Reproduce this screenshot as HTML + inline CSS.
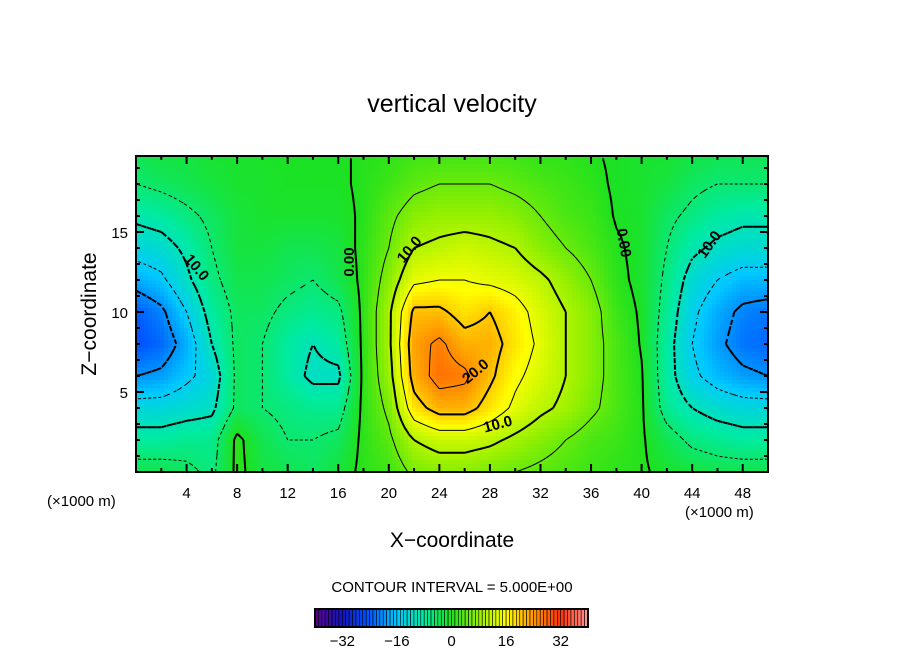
<!DOCTYPE html>
<html><head><meta charset="utf-8"><style>
body{margin:0;background:#fff;}
svg{display:block;font-family:"Liberation Sans",sans-serif;}
</style></head><body>
<svg id="chart" width="904" height="654" viewBox="0 0 904 654" xmlns="http://www.w3.org/2000/svg">
<rect width="904" height="654" fill="#fff"/>
<text x="452" y="112" font-size="25" text-anchor="middle">vertical velocity</text>
<g id="field"></g>
<g id="contours"></g>
<g id="labels" font-size="15" font-weight="bold"></g>
<rect x="136" y="156" width="632" height="316" fill="none" stroke="#000" stroke-width="2"/>
<g id="ticks"></g>
<text transform="translate(96,314) rotate(-90)" font-size="21" text-anchor="middle">Z−coordinate</text>
<text x="452" y="547" font-size="21" text-anchor="middle">X−coordinate</text>
<text x="47" y="506" font-size="15">(×1000 m)</text>
<text x="685" y="517" font-size="15">(×1000 m)</text>
<text x="452" y="592" font-size="15" text-anchor="middle">CONTOUR INTERVAL = 5.000E+00</text>
<g id="cbar"></g>
</svg>
<script>
const xs=[0,2,4,6,8,10,12,14,16,18,20,22,24,26,28,30,32,34,36,38,40,42,44,46,48,50];
const zs=[0,2,4,6,8,10,12,14,16,18,20];
const w0=[-3,-3,-4,-6,1,-2,-3,-4,-2,1,2,6,7,7,6,5,4,3,2,1,0.5,-1,-2,-3,-3,-3];
const w2=[-8,-8,-7,-7,1,-3,-5,-5,-4,1,4,10,12,12,11,9,7,5,3,2,0.5,-3,-6,-7,-8,-8];
const w4=[-13,-13,-12,-11,-4,-5,-6,-7,-7,1,6,18,22,22,18,14,11,9,6,3,0.5,-7,-10,-12,-13,-13];
const w6=[-20,-19,-16,-13,-4,-5,-8,-11,-11,1,8,22,27,26,21,16,13,10,7,3,0.3,-8,-14,-17,-19,-20];
const w8=[-25,-23,-18,-10,-4,-5,-8,-10,-8,1,9,23,26,22,22,18,14,10,7,3,-0.3,-8,-15,-19,-22,-23];
const w10=[-24,-21,-15,-8,-4,-4,-6,-7,-6,1,9,21,21,18,20,17,13,10,7,2,-0.5,-7,-14,-18,-21,-22];
const w12=[-18,-16,-11,-6,-3,-3,-4,-5,-3,1,7,14,15,15,14,13,11,8,5,1,-1,-6,-12,-15,-17,-17];
const w14=[-13,-12,-9,-5,-2,-2,-3,-3,-2,1,5,10,11,12,11,10,7,5,3,0.5,-1,-5,-9,-11,-12,-12];
const w16=[-9,-8,-6,-4,-2,-1,-1,-1,-1,0.5,4,7,8,8,8,7,5,3,2,-0.3,-1,-4,-6,-8,-9,-9];
const w18=[-5,-4,-3,-2,-1,-1,-0.5,-0.5,-0.5,0.5,2,4,5,5,5,4,3,2,1,-0.5,-1,-2,-4,-5,-5,-5];
const w20=[-3,-2,-2,-1,-1,-0.5,-0.5,-0.5,-0.5,0.5,1,2,2,2,2,2,1,1,0.3,-0.5,-1,-1,-2,-3,-3,-3];
const rows=[w0,w2,w4,w6,w8,w10,w12,w14,w16,w18,w20];
const levels=[-20,-15,-10,-5,0,5,10,15,20,25];
const xTicks=[4,8,12,16,20,24,28,32,36,40,44,48];
const zTicks=[5,10,15];
const cbTicks=[-32,-16,0,16,32];

const NS="http://www.w3.org/2000/svg";
const X0=136,X1=768,Y0=472,ZMAX=19.75;
const sx=x=>X0+(x/50)*(X1-X0);
const sz=z=>Y0-z*16;
function val(x,z){
  let i=Math.min(Math.floor(x/2),xs.length-2),j=Math.min(Math.floor(z/2),zs.length-2);
  let fx=(x-xs[i])/2,fz=(z-zs[j])/2;
  const a=rows[j][i],b=rows[j][i+1],c=rows[j+1][i],d=rows[j+1][i+1];
  return (a*(1-fx)+b*fx)*(1-fz)+(c*(1-fx)+d*fx)*fz;
}
const stops=[[-40,[90,0,140]],[-32,[20,20,190]],[-24,[0,90,255]],[-16,[0,200,255]],[-8,[0,235,160]],[0,[30,225,30]],[8,[150,240,0]],[16,[255,255,0]],[24,[255,150,0]],[32,[255,50,10]],[40,[255,150,150]]];
function col(v){
  v=Math.max(-40,Math.min(40,v));
  for(let k=0;k<stops.length-1;k++){
    const [a,ca]=stops[k],[b,cb]=stops[k+1];
    if(v<=b){const t=(v-a)/(b-a);return `rgb(${ca.map((c,i)=>Math.round(c+(cb[i]-c)*t)).join(',')})`;}
  }
  return 'rgb(255,150,150)';
}
function mk(tag,attrs,parent){const e=document.createElementNS(NS,tag);for(const k in attrs)e.setAttribute(k,attrs[k]);parent.appendChild(e);return e;}
const field=document.getElementById('field');
const cs=4;
for(let py=156;py<472;py+=cs){for(let px=136;px<768;px+=cs){
  const x=(px+cs/2-X0)/(X1-X0)*50, z=(Y0-(py+cs/2))/16;
  const r=mk('rect',{x:px,y:py,width:cs+0.5,height:Math.min(cs,472-py)+0.5,fill:col(val(x,Math.min(z,ZMAX)))},field);
  
  
}}
const cg=document.getElementById('contours');
const dx=0.4,dz=0.4,nx=Math.round(50/dx),nz=Math.floor(ZMAX/dz);
const G=[];for(let j=0;j<=nz;j++){G[j]=[];for(let i=0;i<=nx;i++)G[j][i]=val(i*dx,j*dz);}
levels.forEach(L=>{
  let d='';
  for(let j=0;j<nz;j++)for(let i=0;i<nx;i++){
    const p=[[i,j],[i+1,j],[i+1,j+1],[i,j+1]];
    const pts=[];
    for(let e=0;e<4;e++){
      const [a1,b1]=p[e],[a2,b2]=p[(e+1)%4];
      const v1=G[b1][a1]-L,v2=G[b2][a2]-L;
      if((v1<0)!==(v2<0)){const t=v1/(v1-v2);pts.push([sx((a1+(a2-a1)*t)*dx),sz((b1+(b2-b1)*t)*dz)]);}
    }
    for(let k=0;k+1<pts.length;k+=2)d+=`M${pts[k][0].toFixed(1)},${pts[k][1].toFixed(1)}L${pts[k+1][0].toFixed(1)},${pts[k+1][1].toFixed(1)}`;
  }
  const thick=(L%10===0);
  const path=mk('path',{d:d,fill:'none',stroke:'#000','stroke-width':thick?2:1},cg);
  if(L<0)path.setAttribute('stroke-dasharray',thick?'5,3':'3,3');
  
  
});
const lg=document.getElementById('labels');
[[196,268,50,'10.0'],[410,250,-50,'10.0'],[350,262,-90,'0.00'],[476,372,-40,'20.0'],[498,425,-15,'10.0'],[623,243,80,'0.00'],[710,245,-55,'10.0']].forEach(l=>{
  const t=mk('text',{transform:`translate(${l[0]},${l[1]}) rotate(${l[2]})`,'text-anchor':'middle','dominant-baseline':'middle'},lg);
  t.textContent=l[3];
  
  
});
const tg=document.getElementById('ticks');
for(let x=2;x<50;x+=2){const big=x%4===0;const h=big?8:4;
  mk('line',{x1:sx(x),x2:sx(x),y1:472,y2:472-h,stroke:'#000','stroke-width':2},tg);
  mk('line',{x1:sx(x),x2:sx(x),y1:156,y2:156+h,stroke:'#000','stroke-width':2},tg);}
for(let z=1;z<20;z++){const big=z%5===0;const h=big?8:4;
  mk('line',{x1:136,x2:136+h,y1:sz(z),y2:sz(z),stroke:'#000','stroke-width':2},tg);
  mk('line',{x1:768,x2:768-h,y1:sz(z),y2:sz(z),stroke:'#000','stroke-width':2},tg);}
xTicks.forEach(x=>{const t=mk('text',{x:sx(x),y:498,'font-size':15,'text-anchor':'middle'},tg);t.textContent=x;
  });
zTicks.forEach(z=>{const t=mk('text',{x:128,y:sz(z)+6,'font-size':15,'text-anchor':'end'},tg);t.textContent=z;
  });
const cb=document.getElementById('cbar');
const cbx=v=>315+(v+40)/80*273;
for(let v=-40;v<40;v++){
  const r=mk('rect',{x:cbx(v),y:609,width:273/80,height:18,fill:col(v+0.5),stroke:'#000','stroke-width':0.6},cb);
  
  
}
mk('rect',{x:315,y:609,width:273,height:18,fill:'none',stroke:'#000','stroke-width':2},cb);
cbTicks.forEach(v=>{const t=mk('text',{x:cbx(v),y:646,'font-size':15,'text-anchor':'middle'},cb);t.textContent=(v<0?'−':'')+Math.abs(v);
  });
</script>
</body></html>
